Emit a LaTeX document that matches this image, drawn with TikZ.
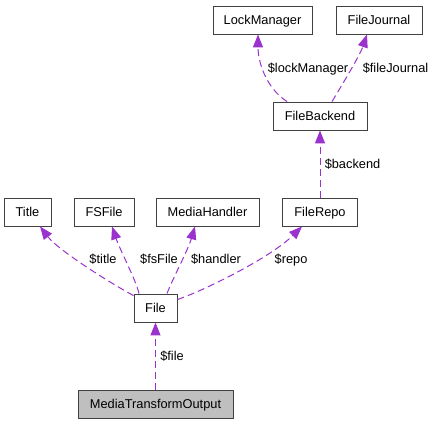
\documentclass[tikz,border=0pt]{standalone}
\usepackage{fontspec}
\setmainfont{Liberation Sans}
\usetikzlibrary{arrows.meta,positioning}
\definecolor{usageline}{RGB}{154,50,205}
\definecolor{boxborder}{RGB}{64,64,64}
\definecolor{currentfill}{RGB}{191,191,191}

\begin{document}
\begin{tikzpicture}[x=1pt,y=-1pt,>={Triangle[length=13pt,width=10pt]},
  every node/.style={font=\fontsize{12.8}{14}\selectfont},
  classbox/.style={draw=boxborder,line width=0.9pt,fill=white,minimum height=28pt,inner sep=0pt,text height=9.2pt,text depth=0pt},
  usage/.style={->,draw=usageline,line width=1pt,dash pattern=on 7pt off 4pt},
  edgelabel/.style={anchor=base,inner sep=0pt}]
  \useasboundingbox (0,0) rectangle (435,424);
  % top row
  \node[classbox,minimum width=99pt] (lockmgr) at (262.5,20) {LockManager};
  \node[classbox,minimum width=86pt] (journal) at (379,20) {FileJournal};
  \node[classbox,minimum width=94pt] (backend) at (320,116) {FileBackend};
  % members of File
  \node[classbox,minimum width=47pt] (title) at (27.5,212) {Title};
  \node[classbox,minimum width=60pt] (fsfile) at (104,212) {FSFile};
  \node[classbox,minimum width=103pt] (handler) at (207.5,212) {MediaHandler};
  \node[classbox,minimum width=75pt] (repo) at (320,212) {FileRepo};
  \node[classbox,minimum width=43pt] (file) at (155.5,308) {File};
  \node[classbox,minimum width=155pt,fill=currentfill] (mto) at (155.5,404) {MediaTransformOutput};

  \draw[usage] ([xshift=-33pt]backend.north) .. controls (266,88) and (258,62) .. ([xshift=-4.5pt]lockmgr.south);
  \draw[usage] ([xshift=12pt]backend.north) .. controls (345,80) and (360,55) .. ([xshift=-12pt]journal.south);
  \draw[usage] (repo.north) -- (backend.south);
  \draw[usage] ([yshift=-2pt]file.north west) .. controls (110,283) and (58,250) .. ([xshift=12.5pt]title.south);
  \draw[usage] ([xshift=-16.5pt]file.north) .. controls (136,280) and (120,250) .. ([xshift=8pt]fsfile.south);
  \draw[usage] ([xshift=11.5pt]file.north) .. controls (172,280) and (188,250) .. ([xshift=-12.5pt]handler.south);
  \draw[usage] ([yshift=-6pt]file.north east) .. controls (205,290) and (270,258) .. ([xshift=-18pt]repo.south);
  \draw[usage] (mto.north) -- (file.south);

  % edge labels
  \node[edgelabel] (lbllock) at (308,72) {\$lockManager};
  \node[edgelabel] (lbljournal) at (395.5,72) {\$fileJournal};
  \node[edgelabel] (lblbackend) at (352.5,168) {\$backend};
  \node[edgelabel] (lbltitle) at (103,263) {\$title};
  \node[edgelabel] (lblfsfile) at (159,263) {\$fsFile};
  \node[edgelabel] (lblhandler) at (216,263) {\$handler};
  \node[edgelabel] (lblrepo) at (291,263) {\$repo};
  \node[edgelabel] (lblfile) at (172,360) {\$file};
\end{tikzpicture}
\end{document}
